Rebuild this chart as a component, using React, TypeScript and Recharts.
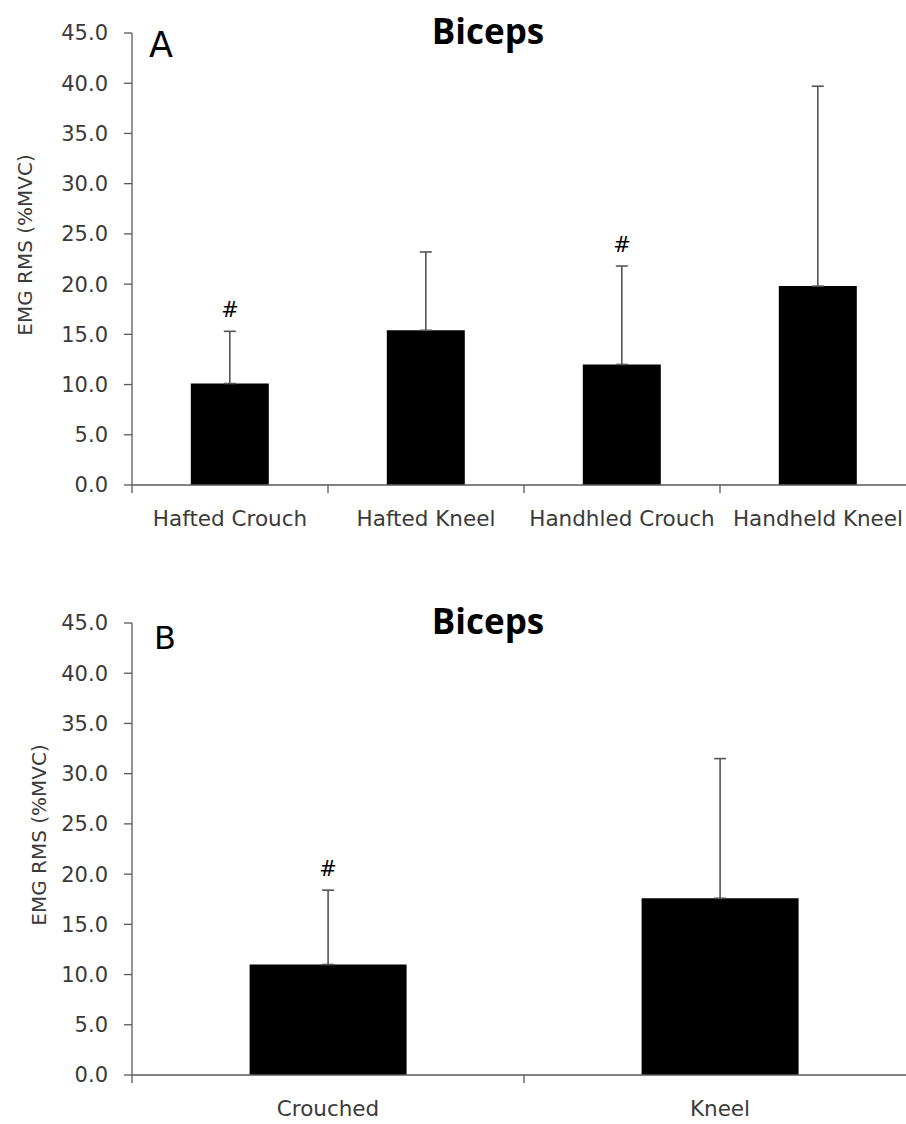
import React from 'react';
import { ComposedChart, Bar, ErrorBar, Scatter, XAxis, YAxis } from 'recharts';

const categoriesA = ['Hafted Crouch', 'Hafted Kneel', 'Handhled Crouch', 'Handheld Kneel'];
const meansA = [10.1, 15.4, 12.0, 19.8];
const sdA = [5.2, 7.8, 9.8, 19.9];
const hashA = [true, false, true, false];

const categoriesB = ['Crouched', 'Kneel'];
const meansB = [11.0, 17.6];
const sdB = [7.4, 13.9];
const hashB = [true, false];

const yTicks = [0, 5, 10, 15, 20, 25, 30, 35, 40, 45];
const chartTitle = 'Biceps';
const yLabel = 'EMG RMS (%MVC)';

const FONT = '"DejaVu Sans", sans-serif';
const AXIS = '#595959';
const TEXT = '#3a3a3a';

type PanelProps = {
  categories: string[];
  means: number[];
  sds: number[];
  hashes: boolean[];
  letter: string;
  top: number;
  height: number;
  xAxisHeight: number;
  yLabelX: number;
  yLabelY: number;
  letterX: number;
  letterY: number;
  letterSize: number;
};

const CatTick = (props: any) => {
  const { x, y, payload, index, visibleTicksCount } = props;
  const off = payload && typeof payload.offset === 'number' ? payload.offset : 0;
  const axisY = y - 26;
  return (
    <g>
      <line x1={x - off} x2={x - off} y1={axisY} y2={axisY + 8} stroke={AXIS} strokeWidth={1.3} />
      {index === visibleTicksCount - 1 ? (
        <line x1={x + off} x2={x + off} y1={axisY} y2={axisY + 8} stroke={AXIS} strokeWidth={1.3} />
      ) : null}
      <text x={x} y={y} dy="0.71em" textAnchor="middle" fill={TEXT} fontSize={21.5} fontFamily={FONT}>
        {payload.value}
      </text>
    </g>
  );
};

const HashShape = (props: any) => {
  const { cx, cy } = props;
  if (!Number.isFinite(cx) || !Number.isFinite(cy)) return <g />;
  return (
    <text x={cx} y={cy - 14} textAnchor="middle" fill="#000" fontSize={21} fontFamily={FONT}>
      #
    </text>
  );
};

function Panel(p: PanelProps) {
  const data = p.categories.map((c, i) => ({
    cat: c,
    mean: p.means[i],
    err: [0, p.sds[i]],
    hashY: p.hashes[i] ? p.means[i] + p.sds[i] : null,
  }));
  const plotBottomLocal = 33 + 452;
  const bottomMargin = p.height - plotBottomLocal - p.xAxisHeight;
  return (
    <div style={{ position: 'absolute', left: 0, top: p.top, width: 920, height: p.height }}>
      <ComposedChart
        width={920}
        height={p.height}
        data={data}
        margin={{ top: 33, right: 4, left: 0, bottom: bottomMargin }}
        barCategoryGap="30%"
      >
        <XAxis
          dataKey="cat"
          height={p.xAxisHeight}
          interval={0}
          tickLine={false}
          tickSize={0}
          tickMargin={26}
          axisLine={{ stroke: AXIS, strokeWidth: 1.3 }}
          tick={<CatTick />}
        />
        <YAxis
          type="number"
          domain={[0, 45]}
          ticks={yTicks}
          interval={0}
          width={132}
          tickSize={8}
          tickMargin={16}
          tickFormatter={(v: number) => v.toFixed(1)}
          axisLine={{ stroke: AXIS, strokeWidth: 1.3 }}
          tickLine={{ stroke: AXIS, strokeWidth: 1.3 }}
          tick={{ fill: TEXT, fontSize: 21, fontFamily: FONT }}
        />
        <Bar dataKey="mean" fill="#000" isAnimationActive={false}>
          <ErrorBar dataKey="err" direction="y" width={6} stroke="#555" strokeWidth={1.6} isAnimationActive={false} />
        </Bar>
        <Scatter dataKey="hashY" shape={<HashShape />} isAnimationActive={false} />
      </ComposedChart>
      <svg
        width={920}
        height={p.height}
        style={{ position: 'absolute', left: 0, top: 0, pointerEvents: 'none' }}
      >
        <text x={488} y={44} textAnchor="middle" fill="#000" fontSize={35} fontWeight={700} fontFamily='"Open Sans", sans-serif'>
          {chartTitle}
        </text>
        <text x={p.letterX} y={p.letterY} fill="#000" fontSize={p.letterSize} fontFamily={FONT}>
          {p.letter}
        </text>
        <text
          x={p.yLabelX}
          y={p.yLabelY}
          transform={`rotate(-90 ${p.yLabelX} ${p.yLabelY})`}
          textAnchor="middle"
          dominantBaseline="central"
          fill={TEXT}
          fontSize={20}
          fontFamily={FONT}
        >
          {yLabel}
        </text>
      </svg>
    </div>
  );
}

export default function App() {
  return (
    <div
      style={{
        position: 'absolute',
        left: 0,
        top: 0,
        width: 906,
        height: 1124,
        overflow: 'hidden',
        background: '#fff',
      }}
    >
      <Panel
        categories={categoriesA}
        means={meansA}
        sds={sdA}
        hashes={hashA}
        letter="A"
        top={0}
        height={560}
        xAxisHeight={60}
        yLabelX={25}
        yLabelY={245}
        letterX={149}
        letterY={57}
        letterSize={35}
      />
      <Panel
        categories={categoriesB}
        means={meansB}
        sds={sdB}
        hashes={hashB}
        letter="B"
        top={590}
        height={534}
        xAxisHeight={48}
        yLabelX={39}
        yLabelY={245}
        letterX={154}
        letterY={59}
        letterSize={32}
      />
    </div>
  );
}
